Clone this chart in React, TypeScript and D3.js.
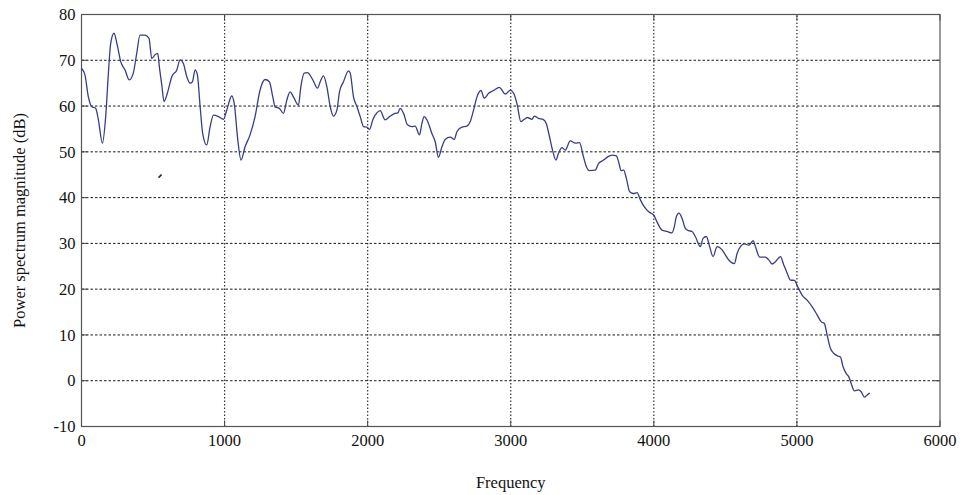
import React from "react";
import * as d3 from "d3";

// frequency (Hz) and magnitude (dB)
const freq = [
    1, 24, 48, 71, 99, 118, 146, 169, 188, 204,
    227, 250, 274, 304, 334, 362, 386, 409, 444, 472,
    491, 514, 533, 544, 561, 577, 600, 631, 666, 689,
    712, 736, 759, 775, 794, 810, 829, 847, 875, 899,
    922, 957, 992, 1015, 1050, 1069, 1090, 1115, 1143, 1178,
    1213, 1248, 1283, 1313, 1337, 1353, 1383, 1411, 1435, 1458,
    1481, 1516, 1533, 1556, 1579, 1617, 1649, 1673, 1691, 1715,
    1738, 1761, 1785, 1803, 1831, 1866, 1878, 1901, 1925, 1948,
    1971, 1994, 2013, 2036, 2064, 2087, 2122, 2157, 2192, 2211,
    2227, 2251, 2278, 2309, 2332, 2362, 2379, 2395, 2414, 2449,
    2472, 2495, 2519, 2542, 2577, 2605, 2624, 2659, 2694, 2717,
    2740, 2764, 2792, 2815, 2845, 2880, 2920, 2938, 2962, 2997,
    3020, 3043, 3071, 3090, 3117, 3148, 3164, 3194, 3225, 3248,
    3271, 3295, 3316, 3334, 3358, 3381, 3416, 3451, 3481, 3505,
    3528, 3551, 3591, 3614, 3649, 3677, 3708, 3738, 3754, 3771,
    3789, 3808, 3831, 3859, 3883, 3906, 3929, 3964, 3999, 4022,
    4057, 4092, 4127, 4143, 4157, 4176, 4197, 4220, 4243, 4267,
    4290, 4325, 4344, 4367, 4390, 4414, 4442, 4477, 4500, 4523,
    4563, 4582, 4605, 4633, 4663, 4680, 4694, 4710, 4740, 4780,
    4803, 4827, 4850, 4885, 4908, 4932, 4955, 4983, 5006, 5036,
    5071, 5106, 5141, 5169, 5192, 5211, 5234, 5257, 5285, 5304,
    5322, 5346, 5362, 5379, 5402, 5432, 5449, 5472, 5491, 5509
];

const magnitude = [
    68.2, 66.8, 62, 59.9, 59.5, 57, 51.9, 57.7, 67.2, 73.7,
    75.9, 73.3, 69.7, 67.9, 65.7, 67.2, 71.5, 75.5, 75.5, 74.8,
    70.4, 71.2, 71.5, 68.6, 64.6, 61, 62.8, 66.4, 67.9, 70.1,
    69.3, 66.4, 65, 65.3, 67.9, 66.8, 59.9, 54, 51.5, 55.5,
    58, 57.7, 57.1, 59.1, 62.2, 60.2, 53.3, 48.2, 51.1, 53.7,
    57.7, 63.5, 65.8, 65.3, 62, 59.8, 59.5, 58.4, 61.3, 63.1,
    62, 60.2, 64.2, 67.2, 67.3, 65.7, 63.9, 65.7, 66.6, 64.2,
    59.9, 57.8, 59.1, 63.1, 65.3, 67.7, 67.2, 62, 59.9, 57.7,
    55.5, 55.4, 54.9, 57, 58.5, 59, 57, 57.8, 58.4, 58.5,
    59.5, 58.4, 55.9, 55.5, 55.6, 53.7, 56.2, 57.7, 57, 54,
    52.2, 48.8, 51.1, 52.7, 53.2, 52.7, 54.4, 55.4, 55.6, 56.6,
    59.1, 62, 63.4, 61.7, 62.8, 63.4, 64.1, 63.5, 62.6, 63.5,
    62.8, 60.6, 56.6, 57, 57.5, 57.1, 57.8, 57.3, 57.1, 56.2,
    53.3, 50, 48.2, 49.7, 50.9, 50.4, 52.4, 51.9, 52, 49.3,
    46.8, 45.9, 46, 47.5, 48.2, 48.9, 49.3, 49.1, 47.8, 45.9,
    46, 44.2, 41.3, 40.9, 41.1, 39.5, 38.2, 36.9, 36.2, 34.7,
    32.9, 32.6, 32.3, 33.6, 35.8, 36.6, 35.5, 33.3, 32.8, 32.6,
    31.5, 29.3, 31.1, 31.5, 29.3, 27.1, 29.3, 28.6, 27.5, 26.4,
    25.6, 27.8, 29.3, 29.9, 29.6, 30.1, 30.6, 29.3, 27, 27,
    26.4, 25.5, 26, 27.1, 25.3, 23.5, 22, 21.9, 20.5, 18.7,
    17.6, 16.2, 14.4, 12.9, 12.5, 10, 7.1, 6, 5.4, 5.2,
    3.1, 1.5, 0.9, -0.6, -2.2, -2, -2.4, -3.6, -3.1, -2.7
];

// the little stray mark left of the curve
const strayMark = [549, 44.7];

const xTicks = [0, 1000, 2000, 3000, 4000, 5000, 6000];
const yTicks = [-10, 0, 10, 20, 30, 40, 50, 60, 70, 80];

const W = 960;
const H = 495;
const margin = { top: 14.5, right: 20, bottom: 68.5, left: 81.5 };
const font = "'Liberation Serif', 'Times New Roman', serif";

export default function App() {
    const x = d3.scaleLinear().domain([0, 6000]).range([margin.left, W - margin.right]);
    const y = d3.scaleLinear().domain([-10, 80]).range([H - margin.bottom, margin.top]);

    const pts: [number, number][] = freq.map((f, i) => [f, magnitude[i]]);
    const line = d3.line<[number, number]>()
        .x(d => x(d[0]))
        .y(d => y(d[1]))
        .curve(d3.curveMonotoneX);

    const x0 = x(0), x1 = x(6000), y0 = y(-10), y1 = y(80);
    const tick = 6;

    return (
        <svg width={W} height={H} style={{ position: "absolute", left: 0, top: 0, background: "#fff" }}
            fontFamily={font}>
            {/* grid */}
            {yTicks.slice(1, -1).map(t => (
                <line key={"gy" + t} x1={x0} x2={x1} y1={y(t)} y2={y(t)}
                    stroke="#1a1a1a" strokeWidth={1} strokeDasharray="2.5,2" />
            ))}
            {xTicks.slice(1, -1).map(t => (
                <line key={"gx" + t} x1={x(t)} x2={x(t)} y1={y0} y2={y1}
                    stroke="#333" strokeWidth={1.2} strokeDasharray="1.5,2" />
            ))}

            {/* ticks, inward on all four sides */}
            {yTicks.map(t => (
                <g key={"ty" + t} stroke="#444" strokeWidth={1}>
                    <line x1={x0} x2={x0 + tick} y1={y(t)} y2={y(t)} />
                    <line x1={x1} x2={x1 - tick} y1={y(t)} y2={y(t)} />
                </g>
            ))}
            {xTicks.map(t => (
                <g key={"tx" + t} stroke="#444" strokeWidth={1}>
                    <line x1={x(t)} x2={x(t)} y1={y0} y2={y0 - tick} />
                    <line x1={x(t)} x2={x(t)} y1={y1} y2={y1 + tick} />
                </g>
            ))}

            {/* frame */}
            <rect x={x0} y={y1} width={x1 - x0} height={y0 - y1} fill="none" stroke="#555" strokeWidth={1.2} />

            {/* spectrum */}
            <path d={line(pts) ?? ""} fill="none" stroke="#383d88" strokeWidth={1.3} strokeLinejoin="round" />
            <line x1={x(strayMark[0]) - 1.5} y1={y(strayMark[1]) + 1.5} x2={x(strayMark[0]) + 1.5} y2={y(strayMark[1]) - 1.5}
                stroke="#222" strokeWidth={1.5} />

            {/* tick labels */}
            {yTicks.map(t => (
                <text key={"ly" + t} x={x0 - 6} y={y(t)} dy="0.35em" textAnchor="end" fontSize={16.5} fill="#111">
                    {t}
                </text>
            ))}
            {xTicks.map(t => (
                <text key={"lx" + t} x={x(t)} y={y0 + 19} textAnchor="middle" fontSize={16.5} fill="#111">
                    {t}
                </text>
            ))}

            {/* axis titles */}
            <text x={(x0 + x1) / 2} y={488} textAnchor="middle" fontSize={16.5} fill="#111">Frequency</text>
            <text transform={`translate(25,${(y0 + y1) / 2}) rotate(-90)`} textAnchor="middle" fontSize={16.5} fill="#111">
                Power spectrum magnitude (dB)
            </text>
        </svg>
    );
}
